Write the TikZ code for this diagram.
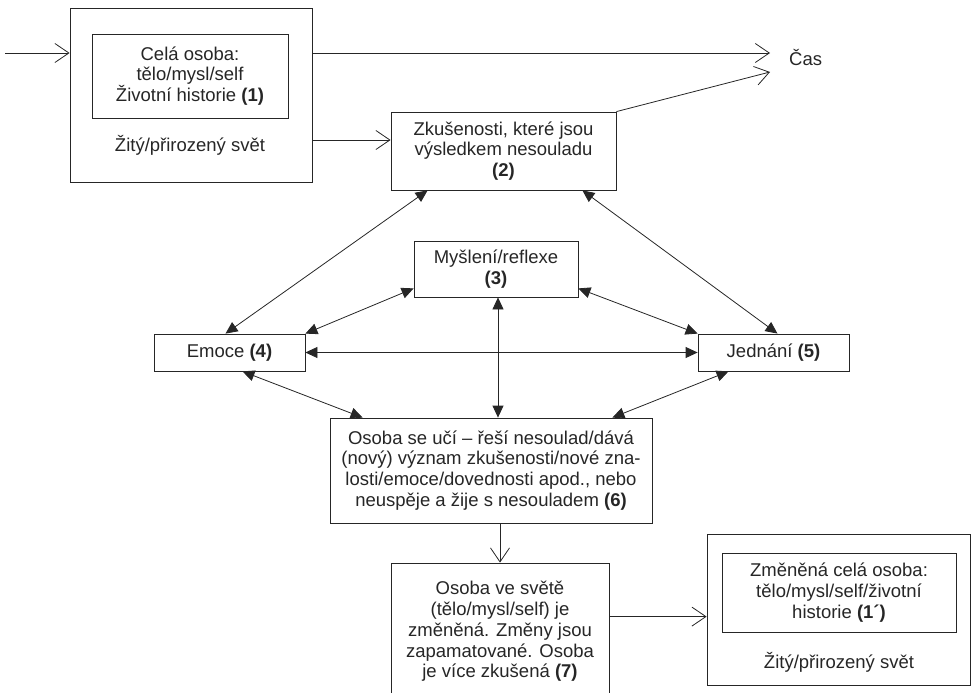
\documentclass[tikz,border=0pt]{standalone}
\usepackage{fontspec}
\setmainfont{Liberation Sans}
\usetikzlibrary{arrows.meta, positioning}

\begin{document}
\begin{tikzpicture}[
    x=1pt, y=1pt,
    box/.style={
      rectangle,
      draw=black!85,
      line width=0.8pt,
      inner sep=0pt,
      align=center,
      text=black!85,
      font=\fontsize{18.5}{20.8}\selectfont
    },
    txt/.style={
      align=center,
      inner sep=0pt,
      text=black!85,
      font=\fontsize{18.5}{20.8}\selectfont
    },
    arrow/.style={
      -{Straight Barb[length=14pt, width=19pt]},
      draw=black!85,
      line width=0.8pt
    },
    both/.style={
      {Triangle[length=12pt, width=11pt]}-{Triangle[length=12pt, width=11pt]},
      draw=black!85,
      line width=0.8pt
    }
  ]

  \useasboundingbox (0,0) rectangle (972,-693);

  % Horní svět
  \node[box, minimum width=242, minimum height=174] (world1) at (191,-95) {};
  \node[box, minimum width=196, minimum height=84] (person1) at (190,-76)
    {Celá osoba:\\tělo/mysl/self\\Životní historie \textbf{(1)}};
  \node[txt] (lived1) at (190,-145) {Žitý/přirozený svět};

  % Čas
  \coordinate (start) at (5,-53);
  \coordinate (time1) at (770,-53);
  \coordinate (time2) at (770,-72);
  \node[txt, anchor=west, right=19pt of time1, yshift=-5pt] (time) {Čas};

  % Uzly
  \node[box, minimum width=225, minimum height=78] (exper) at (503.5,-151)
    {Zkušenosti, které jsou\\výsledkem nesouladu\\\textbf{(2)}};
  \node[box, minimum width=164, minimum height=56] (thinking) at (496,-269)
    {Myšlení/reflexe\\\textbf{(3)}};
  \node[box, minimum width=151, minimum height=37] (emotion) at (229.5,-352.5)
    {Emoce \textbf{(4)}};
  \node[box, minimum width=151, minimum height=37] (action) at (773.5,-352.5)
    {Jednání \textbf{(5)}};
  \node[box, minimum width=322, minimum height=105] (learning) at (491,-470.5)
    {Osoba se učí – řeší nesoulad/dává\\(nový) význam zkušenosti/nové zna-\\losti/emoce/dovednosti apod., nebo\\neuspěje a žije s nesouladem \textbf{(6)}};
  \node[box, minimum width=218, minimum height=137] (changed) at (500,-631.5)
    {Osoba ve světě\\(tělo/mysl/self) je\\změněná. Změny jsou\\zapamatované. Osoba\\je více zkušená \textbf{(7)}};

  % Dolní svět
  \node[box, minimum width=263, minimum height=151] (world2) at (838.5,-609.5) {};
  \node[box, minimum width=234, minimum height=79] (person2) at (839,-592.5)
    {Změněná celá osoba:\\tělo/mysl/self/životní\\historie \textbf{(1´)}};
  \node[txt] (lived2) at (839,-662) {Žitý/přirozený svět};

  % Šipky
  \draw[arrow] (start) -- (start -| world1.west);
  \draw[arrow] (time1 -| world1.east) -- (time1);
  \draw[arrow] ([yshift=-45pt]world1.east) -- ([yshift=-45pt]world1.east -| exper.west);
  \draw[arrow] (exper.north east) -- (time2);
  \draw[both] ([xshift=37pt]exper.south west) -- ([xshift=-4pt]emotion.north);
  \draw[both] ([xshift=-34pt]exper.south east) -- ([xshift=4pt]action.north);
  \draw[both] ([yshift=9pt]thinking.south west) -- (emotion.north east);
  \draw[both] ([yshift=9pt]thinking.south east) -- (action.north west);
  \draw[both] (emotion.east) -- (action.west);
  \draw[both] ([xshift=2pt]thinking.south) -- ([xshift=2pt]thinking.south |- learning.north);
  \draw[both] ([xshift=13pt]emotion.south) -- ([xshift=33pt]learning.north west);
  \draw[both] ([xshift=-45pt]action.south) -- ([xshift=-40pt]learning.north east);
  \draw[arrow] (changed.north |- learning.south) -- (changed.north);
  \draw[arrow] ([yshift=-54pt]changed.north east) -- ([yshift=-54pt]changed.north east -| world2.west);

\end{tikzpicture}
\end{document}
